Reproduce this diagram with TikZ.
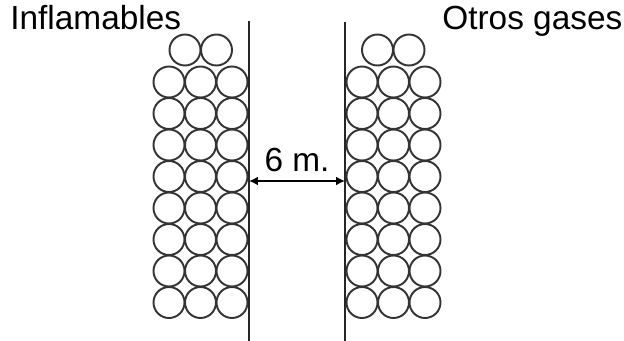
\documentclass[tikz,border=0pt]{standalone}
\usepackage{fontspec}
\setmainfont{Liberation Sans}
\usetikzlibrary{arrows.meta}
\begin{document}
\begin{tikzpicture}[scale=0.2]
		\tikzstyle{every node}+=[inner sep=0pt, font=\fontsize{19}{23}\selectfont]
		\tikzstyle{bottle}=[black!80, line width=1.1pt]
		\tikzstyle{wall}=[black!85, line width=1.3pt]
		\useasboundingbox (0,0) rectangle (62.4,-34.1);
		\draw (1.0,-2.9) node [anchor=base west] (lbl1) {Inflamables};
		\draw (44.2,-2.9) node [anchor=base west] (lbl2) {Otros gases};
		\draw [wall] (24.9,-2.1) -- (24.9,-34.1);
		\draw [wall] (34.5,-2.2) -- (34.5,-34.1);
		\foreach \y in {8.2,11.35,14.5,17.65,20.8,23.95,27.1,30.25} {
			\foreach \x in {16.9,20.05,23.2} \draw [bottle] (\x,-\y) circle (1.55);
			\foreach \x in {36.2,39.35,42.5} \draw [bottle] (\x,-\y) circle (1.55);
		}
		\draw [bottle] (18.5,-5.0) circle (1.55);
		\draw [bottle] (21.65,-5.0) circle (1.55);
		\draw [bottle] (37.75,-5.0) circle (1.55);
		\draw [bottle] (40.9,-5.0) circle (1.55);
		\coordinate (wl) at (24.9,-18.1);
		\coordinate (wr) at (34.5,-18.1);
		\draw [black, line width=1.1pt, {Latex[length=5pt,width=5pt]}-{Latex[length=5pt,width=5pt]}] (wl) -- (wr);
		\draw (29.7,-17.1) node [anchor=base] (gap) {6 m.};
	\end{tikzpicture}
\end{document}
